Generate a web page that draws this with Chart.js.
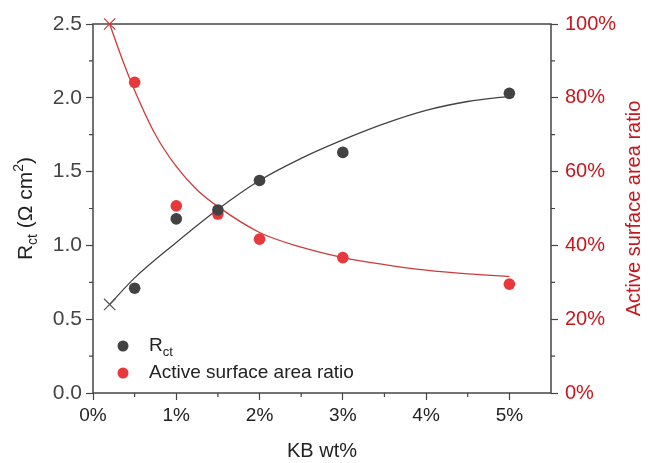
<!DOCTYPE html>
<html>
<head>
<meta charset="utf-8">
<script src="https://cdn.jsdelivr.net/npm/chart.js@4/dist/chart.umd.min.js"></script>
<style>
html,body{margin:0;padding:0;background:#fff;}
#wrap{position:relative;width:648px;height:463px;}
</style>
</head>
<body>
<div id="wrap"><canvas id="c" width="648" height="463"></canvas></div>
<script>
// ---- data ----
const kbWt = [0.5, 1, 1.5, 2, 3, 5];                       // KB wt%
const rct = [0.71, 1.18, 1.24, 1.44, 1.63, 2.03];          // Ω cm²
const activeRatio = [84.2, 50.7, 48.5, 41.7, 36.7, 29.5];  // %
const refX = [0.2];
const rctRef = [0.6];
const ratioRef = [100];
const rctFitX = [0.2, 0.5, 1, 1.5, 2, 2.5, 3, 3.5, 4, 4.5, 5];
const rctFitY = [0.60, 0.78, 1.02, 1.245, 1.44, 1.59, 1.715, 1.825, 1.915, 1.975, 2.01];
const ratioFitX = [0.2, 0.35, 0.5, 0.75, 1, 1.25, 1.5, 2, 2.5, 3, 3.5, 4, 4.5, 5];
const ratioFitY = [100, 90.5, 82, 70, 61.4, 55, 50.5, 43.5, 39.5, 36.7, 34.8, 33.3, 32.3, 31.6];
const xTicks = [0, 1, 2, 3, 4, 5];
const xMinorTicks = [0.5, 1.5, 2.5, 3.5, 4.5];
const yLeftTicks = [0, 0.5, 1.0, 1.5, 2.0, 2.5];
const yLeftMinor = [0.25, 0.75, 1.25, 1.75, 2.25];
const yRightTicks = [0, 20, 40, 60, 80, 100];
const yRightMinor = [10, 30, 50, 70, 90];
const legendLabels = ['R|ct', 'Active surface area ratio'];

const GRAY = '#424242';
const RED = '#e8383c';
const DARKRED = '#c8161d';
const AXIS = '#454545';
const FONT = '"Liberation Sans", Arial, sans-serif';

Chart.defaults.font.family = FONT;
Chart.defaults.font.size = 19;

const pts = (xs, ys) => xs.map((x, i) => ({x: x, y: ys[i]}));

function setTicks(arr) {
  return function(scale) { scale.ticks = arr.map(v => ({value: v})); };
}

const framePlugin = {
  id: 'frame',
  beforeDatasetsDraw(chart) {
    const {ctx, chartArea: a, scales} = chart;
    ctx.save();
    ctx.strokeStyle = AXIS;
    ctx.lineWidth = 1.5;
    ctx.strokeRect(a.left, a.top, a.right - a.left, a.bottom - a.top);
    ctx.lineWidth = 1.2;
    ctx.beginPath();
    xMinorTicks.forEach(v => { const p = scales.x.getPixelForValue(v); ctx.moveTo(p, a.bottom); ctx.lineTo(p, a.bottom + 4); });
    yLeftMinor.forEach(v => { const p = scales.y.getPixelForValue(v); ctx.moveTo(a.left, p); ctx.lineTo(a.left - 4, p); });
    yRightMinor.forEach(v => { const p = scales.y2.getPixelForValue(v); ctx.moveTo(a.right, p); ctx.lineTo(a.right + 4, p); });
    ctx.stroke();
    ctx.restore();
  },
  afterDraw(chart) {
    const {ctx, chartArea: a} = chart;
    ctx.save();
    ctx.textBaseline = 'alphabetic';
    // x title
    ctx.fillStyle = '#222';
    ctx.font = '20px ' + FONT;
    ctx.textAlign = 'center';
    ctx.fillText('KB wt%', (a.left + a.right) / 2, a.bottom + 64);

    // left title with sub/superscript
    const cy = (a.top + a.bottom) / 2;
    ctx.save();
    ctx.translate(a.left - 61, cy);
    ctx.rotate(-Math.PI / 2);
    const parts = [
      {t: 'R', s: 21, dy: 0},
      {t: 'ct', s: 14, dy: 5},
      {t: ' (\u03A9 cm', s: 21, dy: 0},
      {t: '2', s: 14, dy: -9},
      {t: ')', s: 21, dy: 0}
    ];
    let w = 0;
    parts.forEach(p => { ctx.font = p.s + 'px ' + FONT; p.w = ctx.measureText(p.t).width; w += p.w; });
    let x0 = -w / 2;
    ctx.textAlign = 'left';
    ctx.fillStyle = '#222';
    parts.forEach(p => { ctx.font = p.s + 'px ' + FONT; ctx.fillText(p.t, x0, p.dy); x0 += p.w; });
    ctx.restore();

    // right title
    ctx.save();
    ctx.translate(a.right + 89, cy);
    ctx.rotate(-Math.PI / 2);
    ctx.textAlign = 'center';
    ctx.fillStyle = DARKRED;
    ctx.font = '20px ' + FONT;
    ctx.fillText('Active surface area ratio', 0, 0);
    ctx.restore();

    // legend
    const lx = a.left + 30, ly1 = a.bottom - 47, ly2 = a.bottom - 20;
    ctx.fillStyle = GRAY;
    ctx.beginPath(); ctx.arc(lx, ly1, 5.5, 0, Math.PI * 2); ctx.fill();
    ctx.fillStyle = RED;
    ctx.beginPath(); ctx.arc(lx, ly2, 5.5, 0, Math.PI * 2); ctx.fill();
    ctx.fillStyle = '#222';
    ctx.textAlign = 'left';
    ctx.textBaseline = 'middle';
    const [main, sub] = legendLabels[0].split('|');
    ctx.font = '19px ' + FONT;
    ctx.fillText(main, lx + 26, ly1);
    const mw = ctx.measureText(main).width;
    ctx.font = '13px ' + FONT;
    ctx.fillText(sub, lx + 26 + mw, ly1 + 6);
    ctx.font = '19px ' + FONT;
    ctx.fillText(legendLabels[1], lx + 26, ly2);
    ctx.restore();
  }
};

new Chart(document.getElementById('c'), {
  type: 'scatter',
  data: {
    datasets: [
      {label: 'Rct', data: pts(kbWt, rct), yAxisID: 'y', backgroundColor: GRAY, borderColor: GRAY, pointRadius: 5.8, pointBorderWidth: 0},
      {label: 'Active surface area ratio', data: pts(kbWt, activeRatio), yAxisID: 'y2', backgroundColor: RED, borderColor: RED, pointRadius: 5.8, pointBorderWidth: 0},
      {label: 'Rct ref', data: pts(refX, rctRef), yAxisID: 'y', pointStyle: 'crossRot', pointRadius: 8, borderColor: '#555', borderWidth: 1.2, clip: false},
      {label: 'Ratio ref', data: pts(refX, ratioRef), yAxisID: 'y2', pointStyle: 'crossRot', pointRadius: 8, borderColor: '#d03a3a', borderWidth: 1.2, clip: false},
      {label: 'Rct fit', data: pts(rctFitX, rctFitY), yAxisID: 'y', showLine: true, pointRadius: 0, borderColor: GRAY, borderWidth: 1.3, cubicInterpolationMode: 'monotone'},
      {label: 'Ratio fit', data: pts(ratioFitX, ratioFitY), yAxisID: 'y2', showLine: true, pointRadius: 0, borderColor: '#d03a3a', borderWidth: 1.3, cubicInterpolationMode: 'monotone', clip: false}
    ]
  },
  options: {
    responsive: false,
    animation: false,
    events: [],
    layout: {padding: {top: 24, left: 0, right: 0, bottom: 0}},
    plugins: {legend: {display: false}, tooltip: {enabled: false}},
    scales: {
      x: {
        type: 'linear', min: 0, max: 5.5,
        afterBuildTicks: setTicks(xTicks),
        afterFit: s => { s.height = 70; },
        grid: {drawOnChartArea: false, tickLength: 7, tickColor: AXIS, tickWidth: 1.2},
        border: {display: false},
        ticks: {color: '#222', padding: 4, maxRotation: 0, callback: v => v + '%', font: {size: 19}}
      },
      y: {
        type: 'linear', position: 'left', min: 0, max: 2.5,
        afterBuildTicks: setTicks(yLeftTicks),
        afterFit: s => { s.width = 93; },
        grid: {drawOnChartArea: false, tickLength: 7, tickColor: AXIS, tickWidth: 1.2},
        border: {display: false},
        ticks: {color: '#444', padding: 4, callback: v => v.toFixed(1), font: {size: 21}}
      },
      y2: {
        type: 'linear', position: 'right', min: 0, max: 100,
        afterBuildTicks: setTicks(yRightTicks),
        afterFit: s => { s.width = 97; },
        grid: {drawOnChartArea: false, tickLength: 7, tickColor: AXIS, tickWidth: 1.2},
        border: {display: false},
        ticks: {color: DARKRED, padding: 7, callback: v => v + '%', font: {size: 20}}
      }
    }
  },
  plugins: [framePlugin]
});
</script>
</body>
</html>
